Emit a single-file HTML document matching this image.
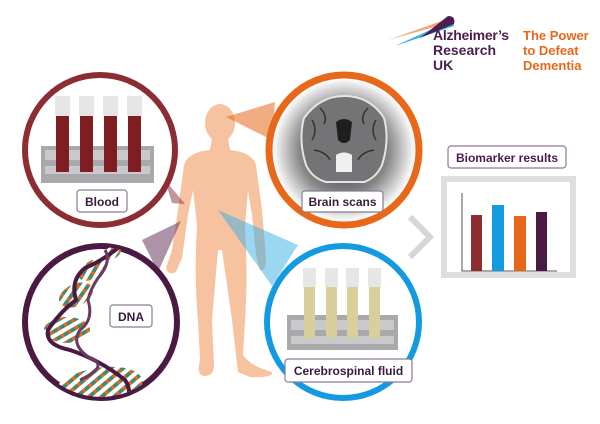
<!DOCTYPE html>
<html><head><meta charset="utf-8"><style>
html,body{margin:0;padding:0;background:#fff;width:600px;height:424px;overflow:hidden}
svg{display:block}
text{font-family:"Liberation Sans",Arial,sans-serif;font-weight:bold}
</style></head><body>
<svg width="600" height="424" viewBox="0 0 600 424" xmlns="http://www.w3.org/2000/svg">
<defs>
<radialGradient id="bg" cx="50%" cy="50%" r="50%">
<stop offset="0" stop-color="#222"/><stop offset="0.6" stop-color="#888"/><stop offset="0.95" stop-color="#fff"/>
</radialGradient>
<pattern id="st2" width="8" height="8" patternUnits="userSpaceOnUse" patternTransform="rotate(-30)">
<rect width="8" height="8" fill="#fff"/><rect width="8" height="4" fill="#3f8a72"/><rect x="5" width="3" height="4" fill="#e8681a"/>
</pattern>
<clipPath id="dc"><circle cx="101" cy="322" r="75"/></clipPath>
</defs>

<!-- logo -->
<path d="M388 40 L450 18 L452 22 Z" fill="#f2a57a"/>
<path d="M395 46 L452 20 L454 26 Z" fill="#3ab0e6"/>
<path d="M420 38 L448 16 Q456 16 454 24 Z" fill="#4a1f4f"/>
<text x="433" y="40" font-size="14" fill="#4a1f4f" textLength="76">Alzheimer’s</text>
<text x="433" y="55" font-size="14" fill="#4a1f4f">Research</text>
<text x="433" y="70" font-size="14" fill="#4a1f4f">UK</text>
<text x="523" y="40" font-size="13" fill="#e8681a">The Power</text>
<text x="523" y="55" font-size="13" fill="#e8681a">to Defeat</text>
<text x="523" y="70" font-size="13" fill="#e8681a">Dementia</text>

<!-- body -->
<g fill="#f6c2a0">
<ellipse cx="220" cy="123" rx="15" ry="19"/>
<path d="M212 138 L228 138 L230 150 Q252 152 256 165 L262 210 L266 258 Q266 272 260 270 L256 255 L252 215 L248 190 L245 225 Q248 280 245 320 L243 355 Q250 366 272 372 Q274 378 250 377 L238 372 L232 320 L222 250 L218 250 L212 320 L214 365 Q214 376 204 376 Q196 375 200 360 L198 320 Q194 280 197 225 L193 190 L188 215 L182 258 L176 272 Q168 276 166 268 L172 250 L178 210 L184 165 Q188 152 210 150 Z"/>
</g>
<!-- beams -->
<polygon points="226,117 275,102 272,140" fill="#e8681a" opacity="0.55"/>
<polygon points="185,204 165,180 172,203" fill="#8b2d33" opacity="0.5"/>
<polygon points="181,221 142,240 158,272" fill="#6a3a60" opacity="0.55"/>
<polygon points="218,210 298,245 272,286" fill="#3ab0e6" opacity="0.5"/>

<!-- blood circle -->
<circle cx="100" cy="150" r="75" fill="#fff" stroke="#8b2d33" stroke-width="6"/>
<rect x="41" y="146" width="113" height="37" fill="#a9a9ab"/>
<rect x="45" y="150" width="105" height="10" fill="#c9c9cb"/>
<rect x="45" y="166" width="105" height="8" fill="#c9c9cb"/>
<g fill="#7e1e22">
<rect x="56" y="114" width="13" height="58"/><rect x="80" y="114" width="13" height="58"/>
<rect x="104" y="114" width="13" height="58"/><rect x="128" y="114" width="13" height="58"/>
</g>
<g fill="#e6e6e6">
<rect x="55" y="96" width="15" height="20"/><rect x="79" y="96" width="15" height="20"/>
<rect x="103" y="96" width="15" height="20"/><rect x="127" y="96" width="15" height="20"/>
</g>
<rect x="77" y="190" width="50" height="22" rx="3" fill="#fff" stroke="#8a7a96" stroke-width="1.2"/>
<text x="102" y="206" font-size="12" fill="#3a1a3e" text-anchor="middle">Blood</text>

<!-- brain circle -->
<circle cx="344" cy="150" r="75" fill="url(#bg)" stroke="#e8681a" stroke-width="7"/>
<path d="M304 118 Q320 96 344 96 Q370 96 384 118 Q390 140 382 165 Q376 178 364 182 L326 182 Q312 178 306 165 Q298 140 304 118 Z" fill="#747476" stroke="#e5e5e5" stroke-width="2"/>
<path d="M312 120 Q318 130 312 140 M376 120 Q370 130 376 140 M320 108 Q328 116 324 124 M368 108 Q360 116 364 124 M314 150 Q326 152 330 160 M374 150 Q362 152 358 160" stroke="#333" stroke-width="1.5" fill="none"/>
<path d="M336 122 Q344 116 352 122 L350 140 Q344 146 338 140 Z" fill="#1e1e1e"/>
<path d="M336 155 Q344 150 352 155 L352 172 L336 172 Z" fill="#f0f0f0"/>
<rect x="302" y="191" width="81" height="21" rx="3" fill="#fff" stroke="#8a7a96" stroke-width="1.2"/>
<text x="342.5" y="206" font-size="12" fill="#3a1a3e" text-anchor="middle">Brain scans</text>

<!-- DNA circle -->
<circle cx="101" cy="322" r="76" fill="#fff" stroke="#4a1a42" stroke-width="6"/>
<g clip-path="url(#dc)">
<ellipse cx="112" cy="253" rx="10" ry="6" transform="rotate(-30 112 253)" fill="url(#st2)"/>
<ellipse cx="92" cy="270" rx="15" ry="9" transform="rotate(-30 92 270)" fill="url(#st2)"/>
<ellipse cx="76" cy="295" rx="18" ry="11" transform="rotate(-25 76 295)" fill="url(#st2)"/>
<ellipse cx="67" cy="330" rx="23" ry="13" fill="url(#st2)"/>
<ellipse cx="98" cy="388" rx="45" ry="20" transform="rotate(-10 98 388)" fill="url(#st2)"/>
<path d="M118 248 Q100 262 85 268 Q70 280 76 300 Q60 312 48 330 Q45 345 70 350 Q100 360 125 380 Q135 395 120 410" fill="none" stroke="#4a1a42" stroke-width="4"/>
<path d="M105 250 Q112 262 98 278 Q90 290 88 300 Q94 320 80 330 Q70 345 90 358 Q110 366 80 380" fill="none" stroke="#6a3a60" stroke-width="3"/>
</g>
<rect x="110" y="305" width="42" height="22" rx="3" fill="#fff" stroke="#8a7a96" stroke-width="1.2"/>
<text x="131" y="321" font-size="12" fill="#3a1a3e" text-anchor="middle">DNA</text>

<!-- CSF circle -->
<circle cx="343" cy="322" r="76" fill="#fff" stroke="#139adf" stroke-width="6"/>
<rect x="287" y="315" width="111" height="35" fill="#a9a9ab"/>
<rect x="291" y="320" width="103" height="10" fill="#c9c9cb"/>
<rect x="291" y="336" width="103" height="8" fill="#c9c9cb"/>
<g fill="#d8cf9a">
<rect x="304" y="287" width="11" height="51"/><rect x="326" y="287" width="11" height="51"/>
<rect x="347" y="287" width="11" height="51"/><rect x="369" y="287" width="11" height="51"/>
</g>
<g fill="#e6e6e6">
<rect x="303" y="268" width="13" height="19"/><rect x="325" y="268" width="13" height="19"/>
<rect x="346" y="268" width="13" height="19"/><rect x="368" y="268" width="13" height="19"/>
</g>
<rect x="285" y="359" width="127" height="23" rx="3" fill="#fff" stroke="#8a7a96" stroke-width="1.2"/>
<text x="348.5" y="375" font-size="12" fill="#3a1a3e" text-anchor="middle">Cerebrospinal fluid</text>

<!-- chevron -->
<path d="M410 217 L430 237 L410 257" fill="none" stroke="#d6d6d8" stroke-width="6"/>

<!-- biomarker -->
<rect x="448" y="146" width="118" height="22" rx="3" fill="#fff" stroke="#8a7a96" stroke-width="1.2"/>
<text x="507" y="162" font-size="12" fill="#4a1a4e" text-anchor="middle">Biomarker results</text>
<rect x="444" y="179" width="129" height="96" fill="#fff" stroke="#dedee0" stroke-width="6"/>
<path d="M462 193 L462 271 L557 271" fill="none" stroke="#555" stroke-width="1"/>
<rect x="471" y="215" width="11" height="56" fill="#8b2d33"/>
<rect x="492" y="205" width="12" height="66" fill="#139adf"/>
<rect x="514" y="216" width="12" height="55" fill="#e8681a"/>
<rect x="536" y="212" width="11" height="59" fill="#4a1a42"/>
</svg>
</body></html>
